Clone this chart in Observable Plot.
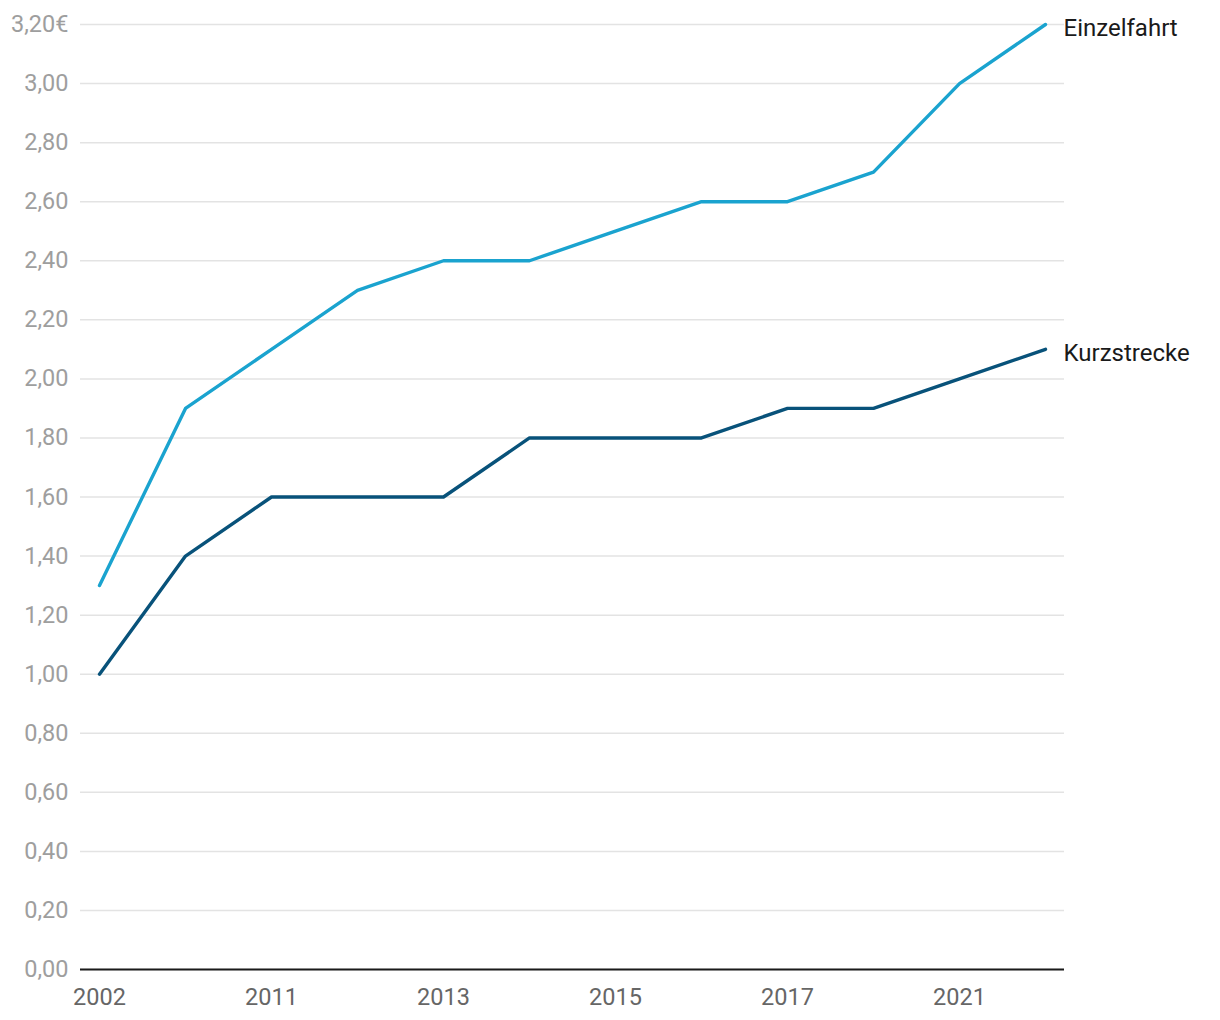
<!DOCTYPE html>
<html>
<head>
<meta charset="utf-8">
<script src="https://cdn.jsdelivr.net/npm/d3@7"></script>
<script src="https://cdn.jsdelivr.net/npm/@observablehq/plot@0.6"></script>
<style>
  html, body { margin: 0; padding: 0; background: #fff; }
  #chart { width: 1220px; height: 1020px; }
  svg { font-family: Roboto, "Noto Sans", sans-serif; }
</style>
</head>
<body>
<div id="chart"></div>
<script>
const years = ["2002", "2009", "2011", "2012", "2013", "2014", "2015", "2016", "2017", "2019", "2021", "2022"];
const shownYears = ["2002", "2011", "2013", "2015", "2017", "2021"];
const einzelfahrt = [1.30, 1.90, 2.10, 2.30, 2.40, 2.40, 2.50, 2.60, 2.60, 2.70, 3.00, 3.20];
const kurzstrecke = [1.00, 1.40, 1.60, 1.60, 1.60, 1.80, 1.80, 1.80, 1.90, 1.90, 2.00, 2.10];
const seriesNames = ["Einzelfahrt", "Kurzstrecke"];
const seriesColors = ["#1aa3cf", "#08527a"];
const yTicks = [0, 0.2, 0.4, 0.6, 0.8, 1.0, 1.2, 1.4, 1.6, 1.8, 2.0, 2.2, 2.4, 2.6, 2.8, 3.0, 3.2];

const rows = [];
years.forEach((y, i) => {
  rows.push({year: y, value: einzelfahrt[i], series: seriesNames[0]});
  rows.push({year: y, value: kurzstrecke[i], series: seriesNames[1]});
});
const lastRows = rows.filter(d => d.year === years[years.length - 1]);

const fmt = v => {
  const s = v.toFixed(2).replace(".", ",");
  return v === 3.2 ? s + "€" : s;
};

const chart = Plot.plot({
  width: 1220,
  height: 1020,
  marginLeft: 80,
  marginRight: 156,
  marginTop: 24,
  marginBottom: 51,
  style: {fontFamily: "Roboto, sans-serif", fontSize: "23.5px", background: "#fff"},
  x: {type: "point", domain: years, padding: 0.22, label: null},
  y: {domain: [0, 3.2], label: null},
  color: {domain: seriesNames, range: seriesColors},
  marks: [
    Plot.gridY(yTicks, {stroke: "#e3e3e3", strokeOpacity: 1, strokeWidth: 1.5}),
    Plot.axisY(yTicks, {tickSize: 0, tickPadding: 12, tickFormat: fmt, fill: "#9e9e9e", fontSize: 23.5, label: null}),
    Plot.axisX(shownYears, {tickSize: 0, tickPadding: 19, fill: "#666", fontSize: 23.5, label: null}),
    Plot.ruleY([0], {stroke: "#1a1a1a", strokeWidth: 2}),
    Plot.line(rows, {x: "year", y: "value", z: "series", stroke: "series", strokeWidth: 3.4}),
    Plot.text(lastRows, {x: "year", y: "value", text: "series", textAnchor: "start", dx: 18, dy: 4, fill: "#1a1a1a", fontSize: 24})
  ]
});
document.getElementById("chart").appendChild(chart);
</script>
</body>
</html>
